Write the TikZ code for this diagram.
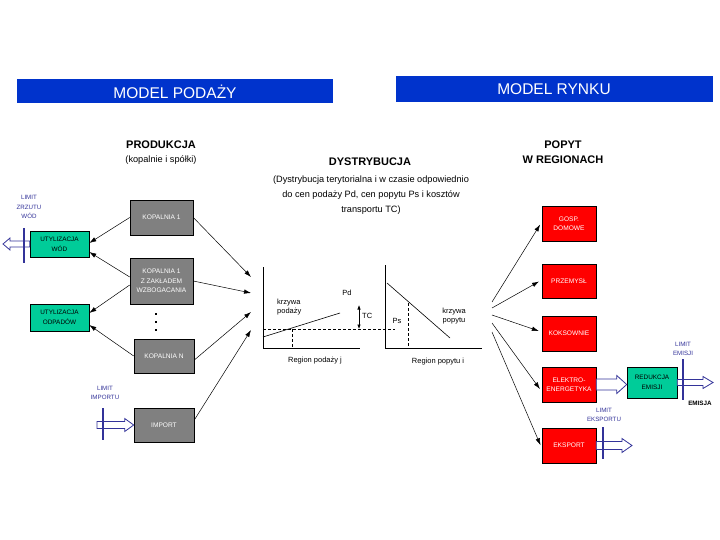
\documentclass[tikz,border=0pt]{standalone}
\usepackage{fontspec}
\setmainfont{Liberation Sans}
\usetikzlibrary{arrows.meta,calc}
\definecolor{banner}{RGB}{0,51,204}
\definecolor{mgreen}{RGB}{0,204,153}
\definecolor{mred}{RGB}{255,0,0}
\definecolor{mgray}{RGB}{128,128,128}
\definecolor{navy}{RGB}{51,51,153}
\newcommand\hollowarr[5]{%
  \path[harrowstyle] let \p1=(#1), \p2=(#2), \p3=($(#2)!#5!(#1)$) in
    (\x1,{\y1+#3}) -- (\x3,{\y1+#3}) -- (\x3,{\y1+#4}) -- (\x2,\y1)
    -- (\x3,{\y1-#4}) -- (\x3,{\y1-#3}) -- (\x1,{\y1-#3}) -- cycle;}
\begin{document}
\begin{tikzpicture}[x=1pt,y=-1pt,
  box/.style={draw=black, line width=0.6pt, inner sep=0pt, align=center,
    font=\fontsize{6.6}{9.5}\selectfont},
  graybox/.style={box, fill=mgray, text=white},
  greenbox/.style={box, fill=mgreen, text=black, font=\fontsize{6.4}{10}\selectfont},
  redbox/.style={box, fill=mred, text=white, minimum width=54pt, minimum height=35pt},
  bannerbox/.style={fill=banner, inner sep=0pt},
  bannertext/.style={text=white, font=\fontsize{15.5}{18}\selectfont, inner sep=0pt},
  heading/.style={font=\bfseries\fontsize{11}{15}\selectfont, inner sep=0pt, align=center},
  subtext/.style={font=\fontsize{9.2}{15}\selectfont, inner sep=0pt, align=center},
  charttext/.style={font=\fontsize{7.5}{9}\selectfont, inner sep=0pt},
  limittext/.style={text=navy, font=\fontsize{6.2}{9.5}\selectfont, inner sep=0pt, align=center},
  limitbar/.style={draw=navy, line width=1.4pt},
  harrowstyle/.style={draw=navy, fill=white, line width=0.8pt, line join=miter},
  arr/.style={-{Latex[length=7pt,width=4.5pt]}, line width=0.5pt},
  axis/.style={line width=0.7pt},
  dsh/.style={line width=0.6pt, dash pattern=on 3pt off 2pt}]
\useasboundingbox (0,0) rectangle (720,540);

% banners
\node[bannerbox, minimum width=316pt, minimum height=24pt] (bl) at (175,91) {};
\node[bannertext] (blt) at (175,92) {MODEL PODAŻY};
\node[bannerbox, minimum width=317pt, minimum height=26pt] (br) at (554.5,89) {};
\node[bannertext] (brt) at (554,89) {MODEL RYNKU};

% headings
\node[heading] (prod) at (161,145) {PRODUKCJA};
\node[font=\fontsize{9.2}{11}\selectfont, inner sep=0pt] (prods) at (161,160) {(kopalnie i spółki)};
\node[heading] (dys) at (370,162) {DYSTRYBUCJA};
\node[subtext] (dyss) at (371,195) {(Dystrybucja terytorialna i w czasie odpowiednio\\do cen podaży Pd, cen popytu Ps i kosztów\\transportu TC)};
\node[heading] (pop) at (563,152.5) {POPYT\\W REGIONACH};

% supply side boxes
\node[graybox, minimum width=63pt, minimum height=35pt] (k1) at (161.5,217.5) {KOPALNIA 1};
\node[graybox, minimum width=63pt, minimum height=46pt] (kz) at (161.5,281) {KOPALNIA 1\\Z ZAKŁADEM\\WZBOGACANIA};
\node[graybox, minimum width=60pt, minimum height=34pt] (kn) at (164,356) {KOPALNIA N};
\node[graybox, minimum width=60pt, minimum height=34pt] (imp) at (164,425) {IMPORT};
\fill (155.2,313.2) rectangle (156.8,314.8);
\fill (155.2,321.2) rectangle (156.8,322.8);
\fill (155.2,329.2) rectangle (156.8,330.8);

\node[greenbox, minimum width=59pt, minimum height=26pt] (wod) at (59.5,244) {UTYLIZACJA\\WÓD};
\node[greenbox, minimum width=59pt, minimum height=27pt] (odp) at (59.5,317.5) {UTYLIZACJA\\ODPADÓW};

% arrows to utilisation
\draw[arr] (k1.west) -- ($(wod.east)+(0,-1)$);
\draw[arr] ($(kz.west)+(0,-4)$) -- ($(wod.east)+(0,8)$);
\draw[arr] ($(kz.west)+(0,4)$) -- ($(odp.east)+(0,-4.5)$);
\draw[arr] (kn.west) -- ($(odp.east)+(0,7.5)$);

% limits on the supply side
\node[limittext] (lzw) at (29,207) {LIMIT\\ZRZUTU\\WÓD};
\coordinate (wodout) at (3,244);
\hollowarr{wod.west}{wodout}{3pt}{6pt}{7pt}
\draw[limitbar] (24,228) -- (24,263);

\node[limittext] (lim) at (105,393) {LIMIT\\IMPORTU};
\coordinate (impin) at (97,425);
\hollowarr{impin}{imp.west}{3.5pt}{6.5pt}{9pt}
\draw[limitbar] (103,408) -- (103,440);

% arrows into distribution
\coordinate (c1) at (251,277);
\coordinate (c2) at (251,293);
\coordinate (c3) at (251,312);
\coordinate (c4) at (251,330);
\draw[arr] (k1.east) -- (c1);
\draw[arr] (kz.east) -- (c2);
\draw[arr] ($(kn.east)+(0,4)$) -- (c3);
\draw[arr] ($(imp.east)+(0,-5)$) -- (c4);

% chart 1 (supply region)
\draw[axis] (263,267) -- (263,348) -- (360,348);
\draw[line width=0.6pt] (263,337) -- (340,313);
\draw[dsh] (263,329) -- (395,329);
\draw[dsh] (292,329) -- (292,348);
\draw[{Latex[length=4.5pt,width=3.5pt]}-{Latex[length=4.5pt,width=3.5pt]}, line width=0.6pt] (359,305) -- (359,329);
\node[charttext, anchor=west, align=left] (ks) at (277,307.5) {krzywa\\podaży};
\node[charttext] (pd) at (347,293) {Pd};
\node[charttext, anchor=west] (tc) at (362,316) {TC};
\node[charttext] (rpj) at (315,361) {Region podaży j};

% chart 2 (demand region)
\draw[axis] (385,265) -- (385,348) -- (482,348);
\draw[line width=0.6pt] (387,283) -- (450,338);
\draw[dsh] (408,303) -- (408,348);
\node[charttext] (ps) at (397,321) {Ps};
\node[charttext, align=center] (kp) at (454,316) {krzywa\\popytu};
\node[charttext] (rpi) at (438,362) {Region popytu i};

% demand side boxes
\node[redbox] (gosp) at (569,223.5) {GOSP.\\DOMOWE};
\node[redbox, minimum height=34pt] (prz) at (569,281) {PRZEMYSŁ};
\node[redbox] (kok) at (569,333.5) {KOKSOWNIE};
\node[redbox] (el) at (569,384.5) {ELEKTRO-\\ENERGETYKA};
\node[redbox] (ek) at (569,445.5) {EKSPORT};
\node[greenbox, minimum width=50pt, minimum height=31pt] (red) at (652,382.5) {REDUKCJA\\EMISJI};

% arrows out of distribution
\coordinate (d1) at (492,302);
\coordinate (d2) at (492,308);
\coordinate (d3) at (492,315);
\coordinate (d4) at (492,323);
\coordinate (d5) at (492,332);
\draw[arr, shorten >=3pt] (d1) -- ($(gosp.west)+(0,-1.5)$);
\draw[arr, shorten >=3pt] (d2) -- ($(prz.west)+(0,-1)$);
\draw[arr, shorten >=3pt] (d3) -- ($(kok.west)+(0,-1.5)$);
\draw[arr, shorten >=3pt] (d4) -- ($(el.west)+(0,7)$);
\draw[arr, shorten >=3pt] (d5) -- ($(ek.west)+(0,2.5)$);

% emission and export
\hollowarr{el.east}{red.west}{5.5pt}{9pt}{10pt}
\coordinate (emout) at (713,382.5);
\hollowarr{red.east}{emout}{3pt}{6pt}{10pt}
\draw[limitbar] (683,359) -- (683,400);
\node[limittext] (lem) at (683,349) {LIMIT\\EMISJI};
\node[font=\bfseries\fontsize{6.3}{8}\selectfont, inner sep=0pt] (emi) at (700,403) {EMISJA};

\coordinate (ekout) at (632,445.5);
\hollowarr{ek.east}{ekout}{4pt}{7pt}{10pt}
\draw[limitbar] (603,427) -- (603,459);
\node[limittext] (lek) at (604,415) {LIMIT\\EKSPORTU};
\end{tikzpicture}
\end{document}
